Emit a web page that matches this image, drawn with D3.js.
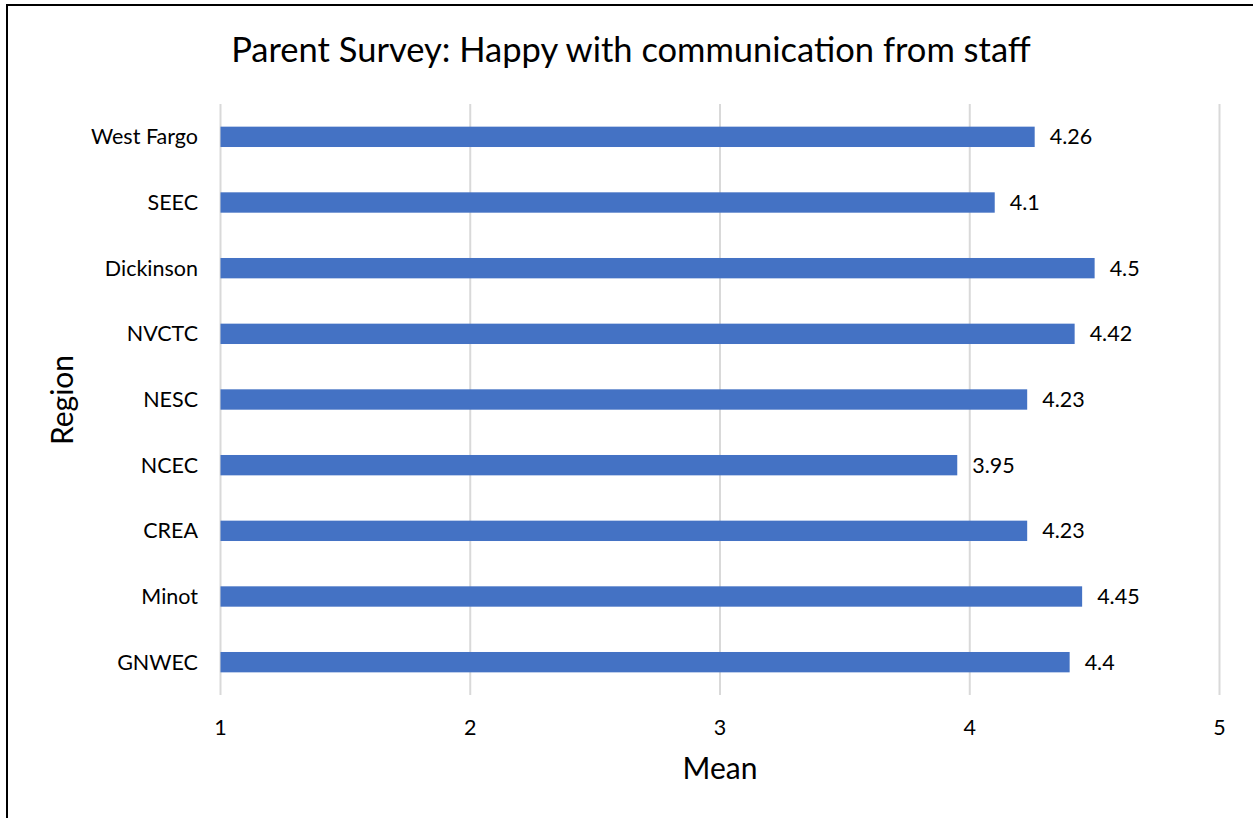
<!DOCTYPE html>
<html><head><meta charset="utf-8">
<script src="https://cdn.jsdelivr.net/npm/d3@7"></script>
<style>body{margin:0;background:#fff;} svg{display:block;} text{font-family:Lato, "Open Sans", sans-serif;fill:#000;}</style>
</head><body>
<svg id="c" width="1253" height="818"></svg>
<script>
const categories = ["West Fargo","SEEC","Dickinson","NVCTC","NESC","NCEC","CREA","Minot","GNWEC"];
const values = [4.26,4.1,4.5,4.42,4.23,3.95,4.23,4.45,4.4];
const valueLabels = ["4.26","4.1","4.5","4.42","4.23","3.95","4.23","4.45","4.4"];
const xTicks = [1,2,3,4,5];
const title = "Parent Survey: Happy with communication from staff";
const xTitle = "Mean";
const yTitle = "Region";

const svg = d3.select("#c");
// outer border
svg.append("path").attr("d","M7,818 V5 H1253").attr("fill","none").attr("stroke","#000").attr("stroke-width",2);

const m = {left:220.5, right:1219.5, top:104, bottom:695};
const x = d3.scaleLinear().domain([1,5]).range([m.left,m.right]);
const y = d3.scaleBand().domain(categories).range([m.top,m.bottom]).paddingInner(0.69).paddingOuter(0.345);

// gridlines
svg.append("g").selectAll("line").data(xTicks).join("line")
  .attr("x1",d=>x(d)).attr("x2",d=>x(d)).attr("y1",m.top).attr("y2",m.bottom)
  .attr("stroke","#d9d9d9").attr("stroke-width",2);

// bars
svg.append("g").selectAll("rect").data(values).join("rect")
  .attr("x",x(1)).attr("y",(d,i)=>y(categories[i]))
  .attr("width",d=>x(d)-x(1)).attr("height",y.bandwidth())
  .attr("fill","#4472c4");

// value labels
svg.append("g").selectAll("text").data(values).join("text")
  .attr("x",d=>x(d)+15).attr("y",(d,i)=>y(categories[i])+y.bandwidth()/2)
  .attr("dy","0.35em").attr("font-size",21.5).text((d,i)=>valueLabels[i]);

// category labels
svg.append("g").selectAll("text").data(categories).join("text")
  .attr("x",198).attr("y",d=>y(d)+y.bandwidth()/2).attr("dy","0.35em")
  .attr("text-anchor","end").attr("font-size",21.5).text(d=>d);

// x tick labels
svg.append("g").selectAll("text").data(xTicks).join("text")
  .attr("x",d=>x(d)).attr("y",727).attr("dy","0.35em")
  .attr("text-anchor","middle").attr("font-size",21.5).text(d=>d);

svg.append("text").attr("x",631).attr("y",50).attr("dy","0.35em").attr("text-anchor","middle")
  .attr("font-size",34.5).text(title);
svg.append("text").attr("x",720).attr("y",768).attr("dy","0.35em").attr("text-anchor","middle")
  .attr("font-size",30).text(xTitle);
svg.append("text").attr("transform","translate(62,400) rotate(-90)").attr("dy","0.35em").attr("text-anchor","middle")
  .attr("font-size",30).text(yTitle);
</script>
</body></html>
